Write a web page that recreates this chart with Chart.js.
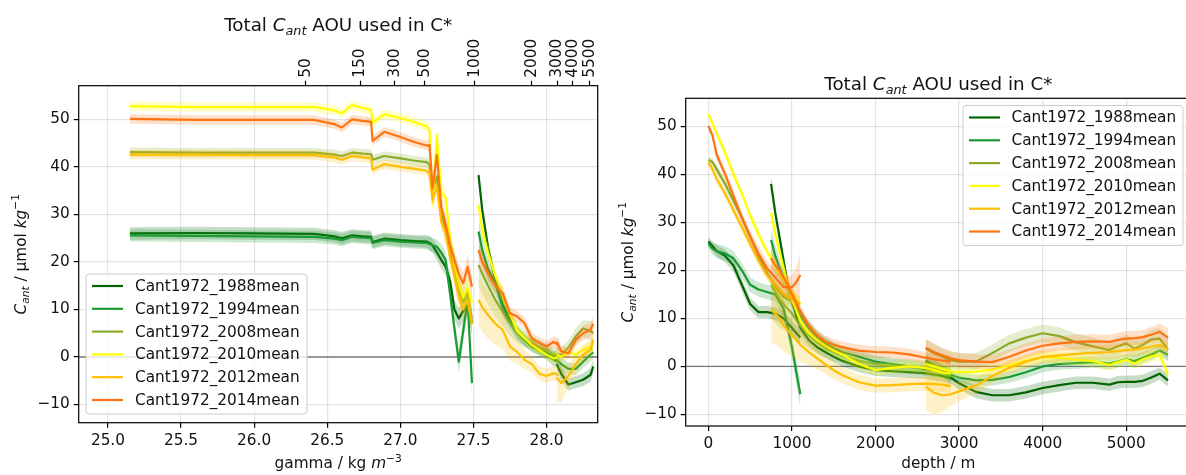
<!DOCTYPE html>
<html>
<head>
<meta charset="utf-8">
<script src="https://cdn.jsdelivr.net/npm/chart.js@4.4.1/dist/chart.umd.min.js"></script>
<style>
html, body { margin: 0; padding: 0; background: #fff; overflow: hidden; width: 1186px; height: 475px; }
canvas { position: absolute; top: 0; }
#gammaChart { left: 0; }
#depthChart { left: 600px; }
</style>
</head>
<body>
<canvas id="gammaChart" width="600" height="475"></canvas>
<canvas id="depthChart" width="600" height="475"></canvas>
<script>
// series
const seriesNames = ['Cant1972_1988mean', 'Cant1972_1994mean', 'Cant1972_2008mean',
                     'Cant1972_2010mean', 'Cant1972_2012mean', 'Cant1972_2014mean'];
const seriesColors = ['#006400', '#1a9a32', '#8aab2a', '#ffff00', '#ffbf00', '#ff7410'];

// tick values
const cantTicks = [-10, 0, 10, 20, 30, 40, 50];
const gammaTicks = [25.0, 25.5, 26.0, 26.5, 27.0, 27.5, 28.0];
const depthTicks = [0, 1000, 2000, 3000, 4000, 5000];

// top axis of the gamma panel : depth labels and where they sit in gamma
const topTickLabels = ['50', '150', '300', '500', '1000', '2000', '3000', '4000', '5500'];
const topTickGamma = [26.354, 26.726, 26.96, 27.166, 27.51, 27.90, 28.073, 28.18, 28.296];

// gamma panel : x positions of the three pieces of each profile
const gammaSegments = [
  [25.15, 25.6, 26.0, 26.41, 26.55, 26.6, 26.67, 26.74, 26.8, 26.81, 26.89, 27.0, 27.1, 27.18,
   27.2, 27.22, 27.25, 27.28, 27.31, 27.34, 27.37, 27.4, 27.43, 27.46, 27.49],
  [27.535, 27.56, 27.6, 27.65, 27.7, 27.75, 27.8, 27.85, 27.9, 27.95, 28.0, 28.05, 28.08],
  [28.07, 28.1, 28.15, 28.2, 28.25, 28.3, 28.32]
];

const cantG1988 = [
  [26.0, 26.1, 26.0, 25.9, 25.4, 25.0, 25.6, 25.4, 25.3, 24.2, 24.9, 24.6, 24.4, 24.3,
   24.0, 23.5, 22.0, 20.4, 19.0, 16.0, 10.0, 8.1, 9.7, 11.4, 7.1],
  [38.3, 31, 23, 16.2, 11, 8, 5, 3.6, 2.2, 1.5, 0.6, -0.5, -1.0],
  [-1.5, -3.5, -5.8, -5.3, -4.8, -3.8, -2]
];
const cantG1994 = [
  [25.6, 25.5, 25.4, 25.3, 24.9, 24.6, 25.3, 25.1, 25.0, 24.0, 24.6, 24.3, 24.1, 24.0,
   23.8, 23.5, 23.2, 22.0, 20.4, 13.4, 6.0, -1.0, 5.5, 12.0, -5.5],
  [26.4, 22.5, 18.5, 15.5, 10.5, 7.5, 5, 3.5, 2.5, 1.5, 1.0, 0.2, 0],
  [-0.5, -1.5, -2.5, -2.5, -1, 0.5, 1]
];
const cantG2008 = [
  [43.1, 43.0, 43.0, 43.0, 42.6, 42.3, 43.0, 42.8, 42.7, 41.5, 42.3, 41.8, 41.3, 41.0,
   40.5, 35.0, 38.0, 30.0, 27.0, 22.0, 18.0, 14.0, 11.5, 13.5, 8.0],
  [19.4, 17.5, 15, 12, 9.5, 7, 5, 3.8, 3, 2, 1.5, 0.5, 0.5],
  [0.5, 0.5, 2, 4.3, 6, 5.5, 5]
];
const cantG2010 = [
  [52.8, 52.6, 52.6, 52.6, 51.9, 51.3, 53.0, 52.4, 52.0, 49.3, 51.1, 50.3, 49.4, 48.5,
   47.8, 32.4, 46.7, 34.5, 33.5, 25.0, 19.5, 15.5, 12.5, 14.5, 11.5],
  [32, 26.7, 22, 17, 13, 9, 5.5, 4, 2.5, 1.5, 0.5, -0.3, 0],
  [0.5, 0, 1, 0.5, 1.5, 2, 2.5]
];
const cantG2012 = [
  [42.6, 42.6, 42.5, 42.5, 42.0, 41.5, 42.3, 42.0, 41.8, 39.4, 40.6, 40.0, 39.6, 39.2,
   38.5, 33.0, 36.0, 28.5, 26.0, 21.0, 17.0, 12.5, 10.0, 12.0, 7.0],
  [12, 10.5, 8.8, 7, 5.7, 2.2, 1, -0.6, -1.5, -3.5, -4, -3.4, -3.8],
  [-4.3, -5.5, -4, -1.5, 0.5, 1.5, 3.6]
];
const cantG2014 = [
  [50.1, 49.9, 49.9, 49.9, 49.0, 48.3, 50.0, 49.7, 49.5, 45.5, 47.4, 46.3, 45.2, 44.5,
   44.6, 35.5, 42.5, 31.5, 28.0, 23.5, 20.5, 17.5, 15.5, 19.0, 14.8],
  [22.5, 20, 17.6, 15, 13.4, 9.2, 8.5, 7.1, 3.9, 3, 2.2, 3.2, 2.5],
  [3.2, 1.2, 0.8, 3.6, 5, 5.7, 7]
];

// half width of the shaded band, gamma panel
const errG1988 = [
  [1.3, 1.3, 1.3, 1.3, 1.3, 1.3, 1.3, 1.3, 1.3, 1.3, 1.3, 1.3, 1.3, 1.3,
   1.5, 1.5, 1.6, 1.8, 1.8, 2.0, 2.0, 2.2, 2.2, 2.5, 2.5],
  [1.5, 1.5, 1.5, 1.3, 1.3, 1.2, 1.2, 1.2, 1.2, 1.2, 1.2, 1.5, 1.5],
  [1.5, 1.5, 1.3, 1.3, 1.3, 1.5, 1.5]
];
const errG1994 = [
  [1.3, 1.3, 1.3, 1.3, 1.3, 1.3, 1.3, 1.3, 1.3, 1.3, 1.3, 1.3, 1.3, 1.3,
   1.5, 1.5, 1.6, 1.8, 1.8, 2.0, 2.2, 2.5, 2.5, 2.5, 2.5],
  [3.0, 2.8, 2.5, 2.2, 2.0, 1.8, 1.5, 1.3, 1.2, 1.2, 1.2, 1.2, 1.2],
  [1.5, 1.5, 1.3, 1.3, 1.3, 1.5, 1.5]
];
const errG2008 = [
  [1.0, 1.0, 1.0, 1.0, 1.0, 1.0, 1.0, 1.0, 1.0, 1.0, 1.0, 1.0, 1.0, 1.0,
   1.5, 2.0, 2.0, 2.0, 2.0, 2.0, 2.0, 2.2, 2.2, 2.5, 2.5],
  [4.5, 4.2, 4.0, 3.5, 3.0, 2.5, 2.0, 1.8, 1.5, 1.5, 1.5, 1.5, 1.5],
  [1.5, 1.5, 1.5, 1.8, 1.8, 2.0, 2.5]
];
const errG2010 = [
  [1.0, 1.0, 1.0, 1.0, 1.0, 1.0, 1.0, 1.0, 1.0, 1.0, 1.0, 1.0, 1.0, 1.0,
   1.5, 2.0, 2.0, 2.0, 2.0, 2.0, 2.0, 2.2, 2.2, 2.5, 2.5],
  [2.0, 2.0, 1.8, 1.6, 1.5, 1.3, 1.2, 1.2, 1.2, 1.2, 1.2, 1.2, 1.2],
  [1.5, 1.2, 1.2, 1.2, 1.2, 1.5, 1.5]
];
const errG2012 = [
  [1.0, 1.0, 1.0, 1.0, 1.0, 1.0, 1.0, 1.0, 1.0, 1.0, 1.0, 1.0, 1.0, 1.0,
   1.5, 2.0, 2.0, 2.0, 2.0, 2.0, 2.0, 2.2, 2.2, 2.5, 2.5],
  [5.5, 5.2, 5.0, 4.5, 4.0, 3.0, 2.5, 2.0, 1.8, 1.5, 1.5, 1.5, 1.5],
  [5.5, 4.0, 2.5, 2.0, 1.8, 2.0, 2.0]
];
const errG2014 = [
  [1.0, 1.0, 1.0, 1.0, 1.0, 1.0, 1.0, 1.0, 1.0, 1.0, 1.0, 1.0, 1.0, 1.0,
   1.5, 2.0, 2.0, 2.0, 2.0, 2.0, 2.0, 2.2, 2.2, 2.5, 2.5],
  [2.0, 2.0, 1.8, 1.6, 1.5, 1.3, 1.2, 1.2, 1.2, 1.2, 1.2, 1.2, 1.2],
  [1.5, 1.2, 1.2, 1.3, 1.5, 1.5, 1.8]
];

// depth panel : x positions (m) of the three pieces of each profile
const depthSegments = [
  [0, 50, 100, 200, 300, 400, 500, 600, 700, 800, 900, 1000, 1050, 1100],
  [750, 800, 850, 900, 950, 1000, 1100, 1200, 1300, 1400, 1500, 1600, 1800, 2000, 2200, 2400, 2600, 2800, 2900],
  [2600, 2700, 2800, 2900, 3000, 3200, 3400, 3600, 3800, 4000, 4200, 4400, 4600, 4800, 4900, 5000, 5100, 5200, 5300, 5400, 5500]
];

const cantD1988 = [
  [26, 25, 24, 23, 21, 17, 13, 11.3, 11.3, 11, 10, 8, 7, 6],
  [38, 32, 27, 22, 17, 13.5, 8, 5.5, 4, 3, 2, 1.2, 0, -0.8, -1, -1.2, -1.4, -2, -2.5],
  [1, 0.2, -1, -2.3, -3.5, -5.3, -6, -6, -5.4, -4.5, -3.9, -3.4, -3.4, -3.8, -3.3, -3.2, -3.2, -3.0, -2.3, -1.5, -2.9]
];
const cantD1994 = [
  [25.5, 24.5, 24, 23.5, 22.5, 20, 17, 16, 15.5, 15, 12, 4, -1, -5.8],
  [26.3, 23, 20.5, 18.5, 16.5, 14, 10.5, 8, 6.2, 4.8, 3.8, 3, 2, 1, 0.5, 0, -0.6, -1.2, -1.5],
  [1.3, 0.3, -0.8, -1.8, -2.3, -2.9, -2.8, -2.2, -1.2, 0, 0.5, 0.7, 0.9, 0.6, 1, 1.5, 1.1, 1.8, 2.5, 3.3, 2.4]
];
const cantD2008 = [
  [43, 42.5, 41, 38, 34.5, 31, 27, 23, 19.5, 16.5, 14.5, 13.5, 13.2, 13],
  [17, 15.5, 14, 13, 12, 11, 8.5, 6.5, 5, 3.8, 3, 2.3, 1.2, 0.5, 0, 0, -0.3, -0.8, -1],
  [3.7, 2.8, 2, 1.3, 1, 1, 2.8, 4.8, 6, 6.9, 6.3, 5, 4.2, 3.4, 4.2, 4.8, 3.7, 4.5, 5.6, 5.8, 3.5]
];
const cantD2010 = [
  [52.5, 50.5, 48.5, 44.5, 40, 36, 31.5, 27.5, 24, 21, 18, 15.5, 14, 13],
  [32, 27.5, 24, 20.5, 17, 14, 9.5, 7, 5.5, 4.3, 3.3, 2.5, 0.5, -0.8, -0.3, 0, -0.3, -1.3, -1.5],
  [0.5, 0, -0.5, -1, -1.2, -1.1, -0.6, 0.2, 1.2, 1.9, 1.8, 1.4, 1.1, 0.3, 0.9, 1.4, 0.6, 1.5, 2.1, 2.4, -1.6]
];
const cantD2012 = [
  [42.5, 41, 39, 36, 32.5, 29, 25.5, 22, 19, 17, 15, 14, 13.5, 13],
  [12, 11, 10, 8.5, 7.5, 6.5, 4.5, 3, 1.7, 0.4, -0.8, -1.8, -3.3, -4, -3.9, -3.7, -3.6, -3.8, -4.1],
  [-4.2, -5.5, -6, -5.8, -5.2, -4, -2, -0.3, 1, 2, 2.3, 2.6, 2.8, 3, 3.2, 3.4, 3.5, 3.8, 4.1, 4.5, 3.5]
];
const cantD2014 = [
  [50, 48, 44, 40, 35.5, 31, 27, 23.5, 20.5, 18.5, 16.5, 16.5, 17.5, 19],
  [22.5, 21, 20, 18.5, 17, 15, 11.5, 8.5, 6.5, 5.2, 4.5, 4, 3.3, 3, 2.9, 2.5, 1.8, 1.2, 1],
  [3.9, 3, 2.3, 1.7, 1.3, 1, 0.9, 2, 3.3, 4.3, 4.8, 5.1, 5.2, 5.1, 5.5, 5.8, 5.9, 6.1, 6.6, 7.2, 6]
];

// half width of the shaded band, depth panel
const errD1988 = [
  [1.0, 1.0, 1.2, 1.3, 1.3, 1.3, 1.3, 1.3, 1.3, 1.3, 1.5, 1.5, 1.5, 1.5],
  [1.5, 1.5, 1.5, 1.4, 1.4, 1.3, 1.3, 1.2, 1.2, 1.2, 1.2, 1.2, 1.2, 1.2, 1.2, 1.2, 1.2, 1.2, 1.2],
  [1.3, 1.3, 1.3, 1.3, 1.3, 1.3, 1.3, 1.3, 1.3, 1.3, 1.3, 1.3, 1.3, 1.3, 1.3, 1.3, 1.3, 1.3, 1.3, 1.3, 1.3]
];
const errD1994 = [
  [1.0, 1.2, 1.5, 1.5, 1.5, 1.5, 1.5, 1.5, 1.5, 1.5, 1.8, 2.0, 2.5, 2.8],
  [2.5, 2.3, 2.0, 1.8, 1.6, 1.5, 1.5, 1.4, 1.3, 1.3, 1.3, 1.3, 1.3, 1.3, 1.3, 1.3, 1.3, 1.3, 1.3],
  [1.2, 1.2, 1.2, 1.2, 1.2, 1.2, 1.2, 1.2, 1.2, 1.2, 1.2, 1.2, 1.2, 1.2, 1.2, 1.2, 1.2, 1.2, 1.2, 1.2, 1.2]
];
const errD2008 = [
  [0.8, 0.8, 1.0, 1.0, 1.0, 1.0, 1.0, 1.0, 1.0, 1.2, 1.2, 1.3, 1.4, 1.5],
  [7.0, 6.5, 6.0, 5.5, 5.0, 4.5, 3.5, 2.8, 2.3, 2.0, 1.8, 1.7, 1.6, 1.5, 1.5, 1.5, 1.5, 1.5, 1.5],
  [2.0, 2.0, 1.8, 1.8, 1.8, 1.8, 1.8, 1.8, 1.8, 1.8, 1.8, 1.8, 1.8, 1.8, 1.8, 1.8, 1.8, 2.0, 2.0, 2.2, 2.5]
];
const errD2010 = [
  [0.8, 0.8, 1.0, 1.0, 1.0, 1.0, 1.0, 1.0, 1.0, 1.2, 1.2, 1.3, 1.4, 1.5],
  [1.5, 1.5, 1.5, 1.4, 1.4, 1.3, 1.3, 1.2, 1.2, 1.2, 1.2, 1.2, 1.2, 1.2, 1.2, 1.2, 1.2, 1.2, 1.2],
  [1.2, 1.2, 1.2, 1.2, 1.2, 1.2, 1.2, 1.2, 1.2, 1.2, 1.2, 1.2, 1.2, 1.2, 1.2, 1.2, 1.2, 1.2, 1.2, 1.2, 1.2]
];
const errD2012 = [
  [0.8, 0.8, 1.0, 1.0, 1.0, 1.0, 1.0, 1.0, 1.0, 1.2, 1.2, 1.3, 1.4, 1.5],
  [7.0, 6.5, 6.0, 5.5, 5.0, 4.5, 3.5, 2.8, 2.3, 2.0, 1.8, 1.7, 1.6, 1.5, 1.5, 1.5, 1.5, 1.5, 1.5],
  [5.0, 4.5, 3.5, 2.5, 2.0, 1.7, 1.5, 1.5, 1.5, 1.5, 1.5, 1.5, 1.5, 1.5, 1.5, 1.5, 1.5, 1.5, 1.5, 1.5, 1.5]
];
const errD2014 = [
  [0.8, 0.8, 1.0, 1.0, 1.2, 1.2, 1.3, 1.5, 1.5, 1.8, 2.0, 2.5, 3.0, 4.5],
  [2.0, 1.8, 1.7, 1.6, 1.5, 1.4, 1.3, 1.2, 1.2, 1.2, 1.2, 1.2, 1.2, 1.2, 1.2, 1.2, 1.2, 1.2, 1.2],
  [1.8, 1.6, 1.5, 1.5, 1.5, 1.5, 1.5, 1.5, 1.5, 1.5, 1.5, 1.5, 1.5, 1.5, 1.5, 1.5, 1.5, 1.5, 1.6, 1.8, 2.0]
];

const FONT = 'DejaVu Sans';
const TEXT = '#111';

function withAlpha(hex, a) {
  const n = parseInt(hex.slice(1), 16);
  return 'rgba(' + (n >> 16) + ',' + ((n >> 8) & 255) + ',' + (n & 255) + ',' + a + ')';
}

function minusSign(v) {
  return String(v).replace('-', '\u2212');
}

// one dataset for the lower edge, one for the upper edge (filled down to the lower one) and one for the line,
// for every piece of every series. Later series are drawn on top.
function buildDatasets(segments, values, errors) {
  const sets = [];
  let rank = 0;
  seriesNames.forEach(function (name, k) {
    segments.forEach(function (xs, s) {
      const vals = values[k][s];
      const errs = errors[k][s];
      const line = xs.map((x, i) => ({x: x, y: vals[i]}));
      const low = xs.map((x, i) => ({x: x, y: vals[i] - errs[i]}));
      const high = xs.map((x, i) => ({x: x, y: vals[i] + errs[i]}));
      sets.push({data: low, borderWidth: 0, pointRadius: 0, fill: false, order: 1000 - rank - 1});
      sets.push({data: high, borderWidth: 0, pointRadius: 0, fill: '-1',
                 backgroundColor: withAlpha(seriesColors[k], 0.22), order: 1000 - rank - 1});
      sets.push({data: line, borderColor: seriesColors[k], borderWidth: 2.2, borderJoinStyle: 'round',
                 pointRadius: 0, fill: false, order: 1000 - rank});
      rank += 2;
    });
  });
  return sets;
}

// text with italic pieces, sub- and superscripts
function drawRich(ctx, parts, size, x, y, vertical) {
  const fontOf = function (p) {
    const small = p[1] === 'sub' || p[1] === 'sup';
    const italic = p[1] === 'i' || p[1] === 'sub';
    return (italic ? 'italic ' : '') + (small ? size * 0.7 : size) + 'px "' + FONT + '"';
  };
  let total = 0;
  const widths = parts.map(function (p) {
    ctx.font = fontOf(p);
    const w = ctx.measureText(p[0]).width;
    total += w;
    return w;
  });
  ctx.save();
  ctx.translate(x, y);
  if (vertical) ctx.rotate(-Math.PI / 2);
  ctx.fillStyle = TEXT;
  ctx.textAlign = 'left';
  ctx.textBaseline = 'alphabetic';
  let cx = -total / 2;
  parts.forEach(function (p, i) {
    ctx.font = fontOf(p);
    const dy = p[1] === 'sub' ? size * 0.22 : (p[1] === 'sup' ? -size * 0.42 : 0);
    ctx.fillText(p[0], cx, dy);
    cx += widths[i];
  });
  ctx.restore();
}

const panelDecor = {
  id: 'panelDecor',
  beforeDatasetsDraw(chart) {
    const ctx = chart.ctx, area = chart.chartArea;
    const y0 = chart.scales.y.getPixelForValue(0);
    ctx.save();
    ctx.strokeStyle = '#7a7a7a';
    ctx.lineWidth = 1.3;
    ctx.beginPath();
    ctx.moveTo(area.left, y0);
    ctx.lineTo(area.right, y0);
    ctx.stroke();
    ctx.restore();
  },
  afterDatasetsDraw(chart, args, opts) {
    const ctx = chart.ctx, area = chart.chartArea;
    ctx.save();
    ctx.strokeStyle = '#000';
    ctx.lineWidth = 1.2;
    ctx.strokeRect(area.left, area.top, area.right - area.left, area.bottom - area.top);

    // legend
    const lg = opts.legend;
    ctx.beginPath();
    ctx.roundRect(lg.x, lg.y, lg.w, lg.h, 3);
    ctx.fillStyle = 'rgba(255,255,255,0.8)';
    ctx.fill();
    ctx.strokeStyle = '#cccccc';
    ctx.lineWidth = 1;
    ctx.stroke();
    ctx.font = '15.3px "' + FONT + '"';
    ctx.textBaseline = 'middle';
    ctx.textAlign = 'left';
    seriesNames.forEach(function (name, k) {
      const cy = lg.y + lg.first + k * lg.step;
      ctx.strokeStyle = seriesColors[k];
      ctx.lineWidth = 2.2;
      ctx.beginPath();
      ctx.moveTo(lg.handle[0], cy);
      ctx.lineTo(lg.handle[1], cy);
      ctx.stroke();
      ctx.fillStyle = TEXT;
      ctx.fillText(name, lg.textX, cy + 1);
    });
    ctx.restore();
  },
  afterDraw(chart, args, opts) {
    const ctx = chart.ctx, area = chart.chartArea;
    const cx = (area.left + area.right) / 2;
    const cy = (area.top + area.bottom) / 2;
    drawRich(ctx, opts.title, 18.3, cx, opts.titleY, false);
    drawRich(ctx, opts.xLabel, 15.3, cx, opts.xLabelY, false);
    drawRich(ctx, opts.yLabel, 15.3, opts.yLabelX, cy, true);
  }
};

const titleParts = [['Total ', 'n'], ['C', 'i'], ['ant', 'sub'], [' AOU used in C*', 'n']];
const yLabelParts = [['C', 'i'], ['ant', 'sub'], [' / \u00b5mol ', 'n'], ['kg', 'i'], ['\u22121', 'sup']];

const tickFont = {family: FONT, size: 15.3};
const gridStyle = {color: 'rgba(0,0,0,0.10)', lineWidth: 1.2, tickColor: '#000', tickLength: 5, tickWidth: 1.2};

function fixedTicks(values) {
  return function (s) { s.ticks = values.map(v => ({value: v})); };
}

function yScale(min, max, width) {
  return {
    type: 'linear', min: min, max: max,
    border: {display: false},
    grid: gridStyle,
    afterBuildTicks: fixedTicks(cantTicks),
    ticks: {font: tickFont, color: TEXT, padding: 4, callback: v => minusSign(v)},
    afterFit: function (s) { s.width = width; }
  };
}

// gamma panel
new Chart(document.getElementById('gammaChart'), {
  type: 'line',
  data: {
    datasets: buildDatasets(gammaSegments,
      [cantG1988, cantG1994, cantG2008, cantG2010, cantG2012, cantG2014],
      [errG1988, errG1994, errG2008, errG2010, errG2012, errG2014])
  },
  options: {
    responsive: false,
    devicePixelRatio: 1,
    animation: false,
    events: [],
    layout: {padding: {left: 0, right: 2.3, top: 0, bottom: 0}},
    scales: {
      x: {
        type: 'linear', position: 'bottom', min: 24.8, max: 28.35,
        border: {display: false},
        grid: gridStyle,
        afterBuildTicks: fixedTicks(gammaTicks),
        ticks: {font: tickFont, color: TEXT, padding: 4, maxRotation: 0, callback: v => v.toFixed(1)},
        afterFit: function (s) { s.height = 52.3; }
      },
      xTop: {
        type: 'linear', position: 'top', min: 24.8, max: 28.35,
        border: {display: false},
        grid: {drawOnChartArea: false, tickColor: '#000', tickLength: 5, tickWidth: 1.2},
        afterBuildTicks: fixedTicks(topTickGamma),
        ticks: {autoSkip: false, minRotation: 90, maxRotation: 90, padding: 3, labelOffset: 18.4,
                font: tickFont, color: TEXT, callback: (v, i) => topTickLabels[i]},
        afterFit: function (s) { s.height = 85.7; }
      },
      y: yScale(-13.83, 57.1, 78.7)
    },
    plugins: {
      legend: {display: false},
      tooltip: {enabled: false},
      panelDecor: {
        title: titleParts, titleY: 30.5,
        xLabel: [['gamma / kg ', 'n'], ['m', 'i'], ['\u22123', 'sup']], xLabelY: 468,
        yLabel: yLabelParts, yLabelX: 25.5,
        legend: {x: 86, y: 274, w: 221, h: 140, first: 12, step: 22.8, handle: [92, 123], textX: 135}
      }
    }
  },
  plugins: [panelDecor]
});

// depth panel
new Chart(document.getElementById('depthChart'), {
  type: 'line',
  data: {
    datasets: buildDatasets(depthSegments,
      [cantD1988, cantD1994, cantD2008, cantD2010, cantD2012, cantD2014],
      [errD1988, errD1994, errD2008, errD2010, errD2012, errD2014])
  },
  options: {
    responsive: false,
    devicePixelRatio: 1,
    animation: false,
    events: [],
    layout: {padding: {left: 0, right: 9, top: 98.3, bottom: 0}},
    scales: {
      x: {
        type: 'linear', position: 'bottom', min: -271.5, max: 5775,
        border: {display: false},
        grid: gridStyle,
        afterBuildTicks: fixedTicks(depthTicks),
        ticks: {font: tickFont, color: TEXT, padding: 4, maxRotation: 0, callback: v => String(v)},
        afterFit: function (s) { s.height = 49; }
      },
      y: yScale(-12.4, 55.8, 85.7)
    },
    plugins: {
      legend: {display: false},
      tooltip: {enabled: false},
      panelDecor: {
        title: titleParts, titleY: 89.5,
        xLabel: [['depth / m', 'n']], xLabelY: 468,
        yLabel: yLabelParts, yLabelX: 32.5,
        legend: {x: 363, y: 105.5, w: 220, h: 140, first: 12, step: 22.8, handle: [369, 400], textX: 411.5}
      }
    }
  },
  plugins: [panelDecor]
});
</script>
</body>
</html>
